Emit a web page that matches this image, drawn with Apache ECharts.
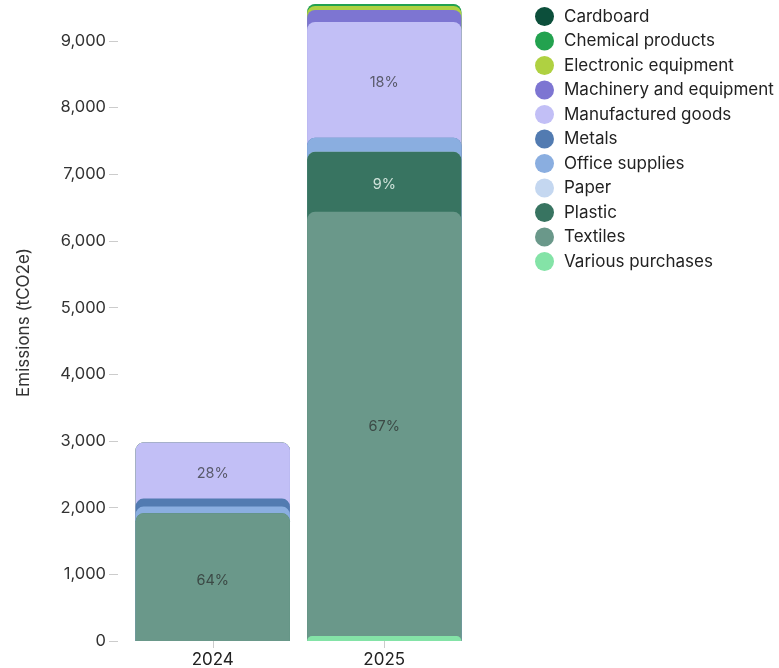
<!DOCTYPE html>
<html>
<head>
<meta charset="utf-8">
<title>Purchased goods emissions by category</title>
<script src="https://cdn.jsdelivr.net/npm/echarts@6/dist/echarts.min.js"></script>
<style>
  html, body { margin: 0; padding: 0; background: #ffffff; }
  #chart { width: 779px; height: 668px; }
</style>
</head>
<body>
<div id="chart"></div>
<script>
// Reporting years on the x axis
const categories = ['2024', '2025'];

// Emissions per purchase category, tCO2e, one entry per year
const cardboard = [0, 0];
const chemicalProducts = [0, 30];
const electronicEquipment = [0, 60];
const machineryAndEquipment = [0, 180];
const manufacturedGoods = [840, 1737];
const metals = [120, 0];
const officeSupplies = [100, 210];
const paper = [0, 0];
const plastic = [0, 900];
const textiles = [1915, 6360];
const variousPurchases = [0, 75];

// Value axis ticks
const yTicks = [0, 1000, 2000, 3000, 4000, 5000, 6000, 7000, 8000, 9000];

// Legend order (alphabetical); the stack is built from the last entry upward
const seriesDefs = [
  { name: 'Cardboard', values: cardboard, color: '#0c4f3b', labelColor: '#ffffff' },
  { name: 'Chemical products', values: chemicalProducts, color: '#23a24f', labelColor: '#ffffff' },
  { name: 'Electronic equipment', values: electronicEquipment, color: '#afd141', labelColor: '#3b3b3b' },
  { name: 'Machinery and equipment', values: machineryAndEquipment, color: '#7d75d2', labelColor: '#ffffff' },
  { name: 'Manufactured goods', values: manufacturedGoods, color: '#c2bff6', labelColor: '#595a6b' },
  { name: 'Metals', values: metals, color: '#527bb1', labelColor: '#ffffff' },
  { name: 'Office supplies', values: officeSupplies, color: '#8aaee0', labelColor: '#3b3b3b' },
  { name: 'Paper', values: paper, color: '#c4d7f0', labelColor: '#3b3b3b' },
  { name: 'Plastic', values: plastic, color: '#387461', labelColor: '#cfe2da' },
  { name: 'Textiles', values: textiles, color: '#6a988a', labelColor: '#3c4a46' },
  { name: 'Various purchases', values: variousPurchases, color: '#84e3a7', labelColor: '#3b3b3b' }
];

const FONT = 'Inter, "Noto Sans", sans-serif';

// Column totals
const totals = categories.map((_, c) => seriesDefs.reduce((s, d) => s + d.values[c], 0));

// Each segment is drawn as a bar from zero up to its cumulative top, so the
// rounded top corners of a segment sit over the segment above it.
const series = seriesDefs.map((def, i) => {
  const data = categories.map((_, c) => {
    let cum = 0;
    for (let j = i; j < seriesDefs.length; j++) cum += seriesDefs[j].values[c];
    const v = def.values[c];
    const share = totals[c] ? v / totals[c] : 0;
    const posY = cum > 0 ? (v / 2) / cum * 100 : 0;
    return {
      value: cum,
      label: {
        show: share >= 0.05,
        position: ['50%', posY + '%'],
        formatter: Math.round(share * 100) + '%'
      }
    };
  });
  return {
    name: def.name,
    type: 'bar',
    barWidth: '90%',
    barGap: '-100%',
    data: data,
    itemStyle: Object.assign(
      { color: def.color, borderRadius: [8, 8, 0, 0] },
      i === 0 ? { borderColor: '#cccccc', borderWidth: 1 } : {}
    ),
    label: {
      align: 'center',
      verticalAlign: 'middle',
      offset: [0, 3],
      color: def.labelColor,
      fontSize: 14.5,
      fontFamily: FONT
    },
    emphasis: { disabled: true },
    animation: false
  };
});

const chart = echarts.init(document.getElementById('chart'), null, { renderer: 'canvas' });
chart.setOption({
  animation: false,
  backgroundColor: '#ffffff',
  grid: { left: 127, right: 309, top: 4, bottom: 27, containLabel: false },
  legend: {
    orient: 'vertical',
    left: 535,
    top: 7,
    padding: 0,
    icon: 'circle',
    itemWidth: 19,
    itemHeight: 19,
    itemGap: 5.5,
    itemStyle: { borderWidth: 0 },
    data: seriesDefs.map(d => d.name),
    textStyle: { fontSize: 17, color: '#222222', fontFamily: FONT, padding: [0, 0, 0, 5] }
  },
  xAxis: {
    type: 'category',
    data: categories,
    axisLine: { show: false },
    axisTick: { show: true, alignWithLabel: true, length: 7, lineStyle: { color: '#cccccc' } },
    axisLabel: { fontSize: 17, color: '#222222', fontFamily: FONT, margin: 10 }
  },
  yAxis: {
    type: 'value',
    min: 0,
    max: 'dataMax',
    offset: 9,
    name: 'Emissions (tCO2e)',
    nameLocation: 'middle',
    nameGap: 86,
    nameTextStyle: { fontSize: 17, color: '#333333', fontFamily: FONT },
    splitLine: { show: false },
    axisLine: { show: false },
    axisTick: { show: true, length: 9, lineStyle: { color: '#cccccc' }, customValues: yTicks },
    axisLabel: {
      fontSize: 16.5,
      color: '#333333',
      fontFamily: FONT,
      margin: 12,
      customValues: yTicks,
      formatter: v => Number(v).toLocaleString('en-US')
    }
  },
  series: series
});
</script>
</body>
</html>
